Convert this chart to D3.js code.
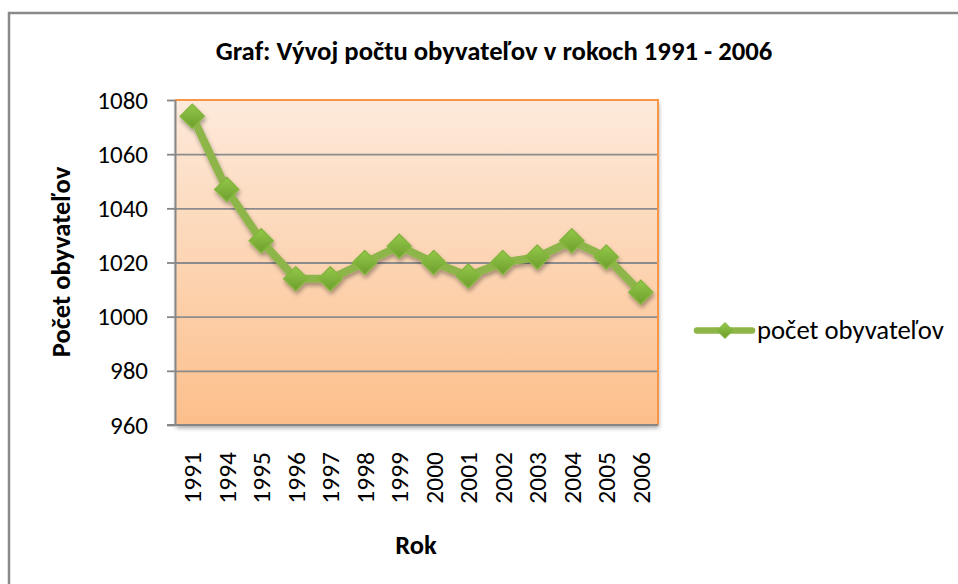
<!DOCTYPE html>
<html>
<head>
<meta charset="utf-8">
<script src="https://cdn.jsdelivr.net/npm/d3@7"></script>
<style>
  html, body { margin: 0; padding: 0; background: #ffffff; }
  svg { display: block; }
  text { font-family: Calibri, Carlito, "Liberation Sans", Arial, sans-serif; fill: #000; }
</style>
</head>
<body>
<script>
const years = ["1991","1994","1995","1996","1997","1998","1999","2000","2001","2002","2003","2004","2005","2006"];
const population = [1074, 1047, 1028, 1014, 1014, 1020, 1026, 1020, 1015, 1020, 1022, 1028, 1022, 1009];
const yTicks = [960, 980, 1000, 1020, 1040, 1060, 1080];
const titleText = "Graf: Vývoj počtu obyvateľov v rokoch 1991 - 2006";
const yTitle = "Počet obyvateľov";
const xTitle = "Rok";
const seriesName = "počet obyvateľov";

const W = 958, H = 584;
const plot = {left: 175, right: 658, top: 100, bottom: 425};
const FONT = 'Calibri, Carlito, "Liberation Sans", Arial, sans-serif';

const svg = d3.select("body").append("svg").attr("width", W).attr("height", H);
const defs = svg.append("defs");

const bg = defs.append("linearGradient").attr("id", "bgGrad").attr("x1", 0).attr("y1", 0).attr("x2", 0).attr("y2", 1);
bg.append("stop").attr("offset", "0%").attr("stop-color", "#fdeadb");
bg.append("stop").attr("offset", "100%").attr("stop-color", "#fcbf8b");

const mk = defs.append("linearGradient").attr("id", "mkGrad").attr("x1", 0).attr("y1", 0).attr("x2", 0).attr("y2", 1);
mk.append("stop").attr("offset", "0%").attr("stop-color", "#93c94a");
mk.append("stop").attr("offset", "100%").attr("stop-color", "#6e9d2d");

const sh = defs.append("filter").attr("id", "shadow").attr("x", "-20%").attr("y", "-20%").attr("width", "140%").attr("height", "160%");
sh.append("feDropShadow").attr("dx", 1).attr("dy", 3).attr("stdDeviation", 2).attr("flood-color", "#000").attr("flood-opacity", 0.35);

const psh = defs.append("filter").attr("id", "pshadow").attr("x", "-5%").attr("y", "-5%").attr("width", "110%").attr("height", "115%");
psh.append("feDropShadow").attr("dx", 1).attr("dy", 3).attr("stdDeviation", 2).attr("flood-color", "#000").attr("flood-opacity", 0.35);

// outer frame
svg.append("rect").attr("x", 9).attr("y", 13).attr("width", W + 20).attr("height", H + 20)
  .attr("fill", "#fff").attr("stroke", "#8a8a8a").attr("stroke-width", 2.5);

const x = d3.scaleBand().domain(years).range([plot.left, plot.right]);
const y = d3.scaleLinear().domain([960, 1080]).range([plot.bottom, plot.top]);

// plot background
svg.append("rect").attr("x", plot.left).attr("y", plot.top)
  .attr("width", plot.right - plot.left).attr("height", plot.bottom - plot.top)
  .attr("fill", "url(#bgGrad)").attr("filter", "url(#pshadow)");

// gridlines
const grid = svg.append("g").attr("transform", `translate(${plot.left},0)`)
  .call(d3.axisLeft(y).tickValues(yTicks.filter(v => v !== 960 && v !== 1080)).tickSize(-(plot.right - plot.left)).tickFormat(""));
grid.select(".domain").remove();
grid.selectAll("line").attr("stroke", "#8c8c8c").attr("stroke-width", 1.8);

// orange border top & right
svg.append("path")
  .attr("d", `M${plot.left},${plot.top}H${plot.right}V${plot.bottom}`)
  .attr("fill", "none").attr("stroke", "#f79646").attr("stroke-width", 2);

// y axis
const ya = svg.append("g").attr("transform", `translate(${plot.left},0)`)
  .call(d3.axisLeft(y).tickValues(yTicks).tickFormat(d3.format("d")).tickSize(8).tickPadding(19).tickSizeOuter(0));
ya.select(".domain").attr("stroke", "#868686").attr("stroke-width", 2);
ya.selectAll("line").attr("stroke", "#868686").attr("stroke-width", 1.8);
ya.selectAll("text").attr("font-size", 25).attr("fill", "#000").style("font-family", FONT);

// x axis baseline
svg.append("line").attr("x1", plot.left - 8).attr("x2", plot.right).attr("y1", plot.bottom).attr("y2", plot.bottom)
  .attr("stroke", "#868686").attr("stroke-width", 2);

// x tick labels
const xa = svg.append("g").attr("transform", `translate(0,${plot.bottom})`)
  .call(d3.axisBottom(x).tickSize(0).tickPadding(0));
xa.select(".domain").remove();
xa.selectAll("text")
  .attr("font-size", 25.5)
  .attr("fill", "#000")
  .attr("text-anchor", "end")
  .attr("transform", "rotate(-90)")
  .attr("x", -27).attr("y", 0).attr("dy", "0.36em")
  .style("font-family", FONT);

// series
const line = d3.line().x((d, i) => x(years[i]) + x.bandwidth() / 2).y(d => y(d));
const sg = svg.append("g").attr("filter", "url(#shadow)");
sg.append("path").datum(population).attr("d", line)
  .attr("fill", "none").attr("stroke", "#8db548").attr("stroke-width", 8).attr("stroke-linejoin", "round");
const dsize = 12;
sg.selectAll("path.mk").data(population).enter().append("path").attr("class", "mk")
  .attr("d", (d, i) => {
    const cx = x(years[i]) + x.bandwidth() / 2, cy = y(d);
    return `M${cx},${cy - dsize}L${cx + dsize},${cy}L${cx},${cy + dsize}L${cx - dsize},${cy}Z`;
  })
  .attr("fill", "url(#mkGrad)").attr("stroke", "#84b63e").attr("stroke-width", 1.5);

// title
svg.append("text").attr("x", 494).attr("y", 60)
  .attr("text-anchor", "middle").attr("font-size", 26.7).attr("font-weight", "bold").text(titleText);

// axis titles
svg.append("text").attr("transform", "translate(70,262) rotate(-90)")
  .attr("text-anchor", "middle").attr("font-size", 26.5).attr("font-weight", "bold").text(yTitle);
svg.append("text").attr("x", 416).attr("y", 554)
  .attr("text-anchor", "middle").attr("font-size", 26.5).attr("font-weight", "bold").text(xTitle);

// legend
const lg = svg.append("g");
lg.append("line").attr("x1", 697).attr("x2", 752).attr("y1", 330.5).attr("y2", 330.5)
  .attr("stroke", "#8db548").attr("stroke-width", 6.5).attr("stroke-linecap", "round");
const lx = 725, ly = 330.5, ls = 8;
lg.append("path").attr("d", `M${lx},${ly - ls}L${lx + ls},${ly}L${lx},${ly + ls}L${lx - ls},${ly}Z`)
  .attr("fill", "url(#mkGrad)").attr("stroke", "#84b63e").attr("stroke-width", 1);
lg.append("text").attr("x", 757).attr("y", 339).attr("font-size", 26.7).text(seriesName);
</script>
</body>
</html>
